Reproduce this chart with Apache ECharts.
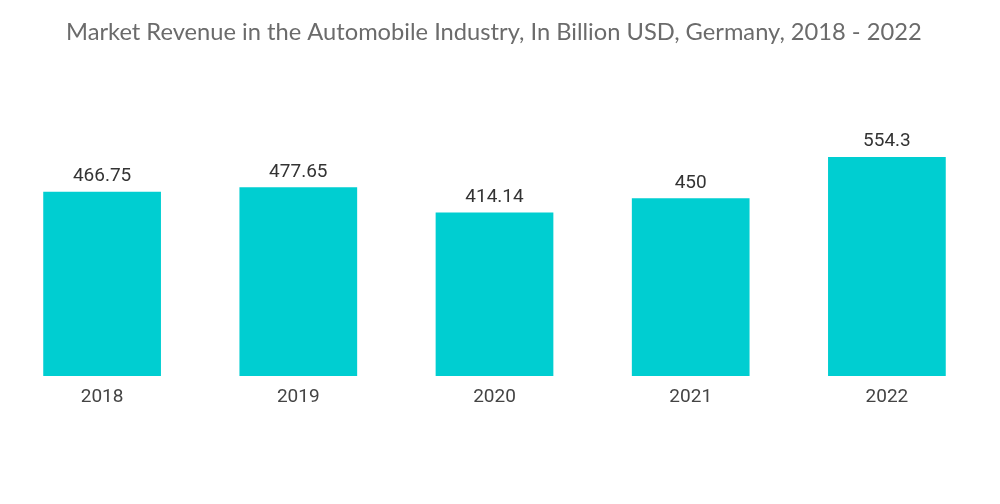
<!DOCTYPE html>
<html><head><meta charset="utf-8">
<script src="https://cdn.jsdelivr.net/npm/echarts@6/dist/echarts.min.js"></script>
<style>html,body{margin:0;padding:0;background:#fff}#c{width:1000px;height:504px}</style>
</head><body><div id="c"></div>
<script>
const categories = ['2018', '2019', '2020', '2021', '2022'];
const revenue = [466.75, 477.65, 414.14, 450, 554.3];
const chart = echarts.init(document.getElementById('c'));
chart.setOption({
  animation: false,
  title: {
    text: 'Market Revenue in the Automobile Industry, In Billion USD, Germany, 2018 - 2022',
    left: 61, top: 15,
    textStyle: { fontFamily: 'Lato', fontSize: 23.7, fontWeight: 'normal', color: '#6b6b6b' }
  },
  grid: { left: 4, right: 15, top: 139, bottom: 128 },
  xAxis: {
    type: 'category', data: categories,
    axisLine: { show: false }, axisTick: { show: false },
    axisLabel: { fontFamily: 'Roboto', fontSize: 19, color: '#444', margin: 12 }
  },
  yAxis: { type: 'value', min: 0, max: 600, show: false, splitLine: { show: false } },
  series: [{
    type: 'bar', data: revenue, barWidth: '60%',
    itemStyle: { color: '#00CED1' },
    label: { show: true, position: 'top', distance: 6, fontFamily: 'Roboto', fontSize: 19, color: '#333' }
  }]
});
</script></body></html>
